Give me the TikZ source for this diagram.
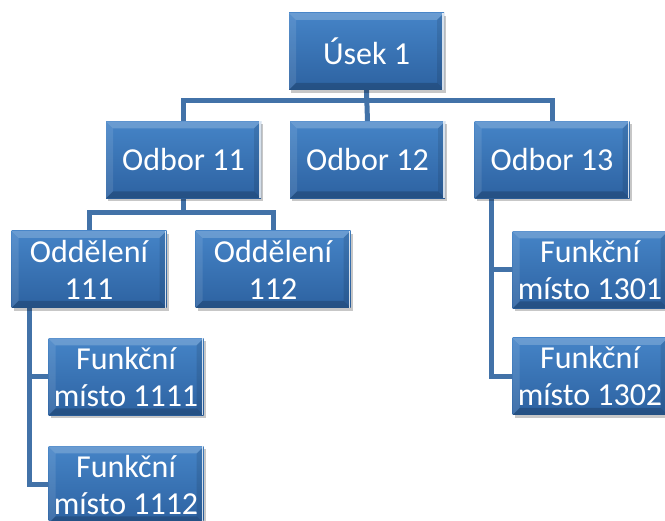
\documentclass[tikz,border=0pt]{standalone}
\usepackage{fontspec}
\setmainfont{Carlito}
\usetikzlibrary{shadows}
\definecolor{boxtop}{HTML}{4584C7}
\definecolor{boxbot}{HTML}{2D62A1}
\definecolor{linkblue}{HTML}{4272A8}
\pgfdeclarelayer{bg}
\pgfsetlayers{bg,main}
\tikzset{
  orgbox/.style={
    minimum width=155pt, minimum height=77pt, inner sep=0pt,
    text=white, align=center, font=\fontsize{32}{37}\selectfont,
    top color=boxtop, bottom color=boxbot,
    general shadow={fill=black, opacity=0.22, shadow xshift=2pt, shadow yshift=-3pt},
    path picture={
      % bevelled rim: light top and left, white right edge, dark bottom
      \fill[white, opacity=0.2] (path picture bounding box.north west) -- (path picture bounding box.north east)
        -- ([shift={(-7pt,-7pt)}]path picture bounding box.north east) -- ([shift={(7pt,-7pt)}]path picture bounding box.north west) -- cycle;
      \fill[white, opacity=0.1] (path picture bounding box.north west) -- (path picture bounding box.south west)
        -- ([shift={(7pt,7pt)}]path picture bounding box.south west) -- ([shift={(7pt,-7pt)}]path picture bounding box.north west) -- cycle;
      \fill[black, opacity=0.1] (path picture bounding box.north east) -- (path picture bounding box.south east)
        -- ([shift={(-7pt,7pt)}]path picture bounding box.south east) -- ([shift={(-7pt,-7pt)}]path picture bounding box.north east) -- cycle;
      \fill[black, opacity=0.18] (path picture bounding box.south west) -- (path picture bounding box.south east)
        -- ([shift={(-7pt,7pt)}]path picture bounding box.south east) -- ([shift={(7pt,7pt)}]path picture bounding box.south west) -- cycle;
      \draw[white, opacity=0.8, line width=1.5pt] ([xshift=-1pt]path picture bounding box.north east) -- ([xshift=-1pt]path picture bounding box.south east);
    }},
  link/.style={draw=linkblue, line width=5pt}
}
\begin{document}
\begin{tikzpicture}[x=1pt, y=-1pt]
\useasboundingbox (0,0) rectangle (665,521);

\node[orgbox] (usek) at (366.5,51.5) {Úsek 1};
\node[orgbox] (o11) at (183.5,160) {Odbor 11};
\node[orgbox] (o12) at (367.5,160) {Odbor 12};
\node[orgbox] (o13) at (552,160) {Odbor 13};
\node[orgbox] (d111) at (89,269.5) {Oddělení\\111};
\node[orgbox] (d112) at (273,269.5) {Oddělení\\112};
\node[orgbox] (f1111) at (126,377) {Funkční\\místo 1111};
\node[orgbox] (f1112) at (126,485) {Funkční\\místo 1112};
\node[orgbox] (f1301) at (590,270) {Funkční\\místo 1301};
\node[orgbox] (f1302) at (590,376.5) {Funkční\\místo 1302};

\begin{pgfonlayer}{bg}
  % Úsek 1 to the three departments
  \draw[link] (usek.south) -- ++(0,10) -| (o11.north);
  \draw[link] (usek.south) -- (o12.north);
  \draw[link] (usek.south) -- ++(0,10) -| (o13.north);
  % Odbor 11 to its sections
  \draw[link] (o11.south) -- ++(0,14) -| (d111.north);
  \draw[link] (o11.south) -- ++(0,14) -| (d112.north);
  % Oddělení 111 to its posts
  \draw[link] ([xshift=18pt]d111.south west) |- (f1111.west);
  \draw[link] ([xshift=18pt]d111.south west) |- (f1112.west);
  % Odbor 13 to its posts
  \draw[link] ([xshift=17pt]o13.south west) |- (f1301.west);
  \draw[link] ([xshift=17pt]o13.south west) |- (f1302.west);
\end{pgfonlayer}
\end{tikzpicture}
\end{document}
